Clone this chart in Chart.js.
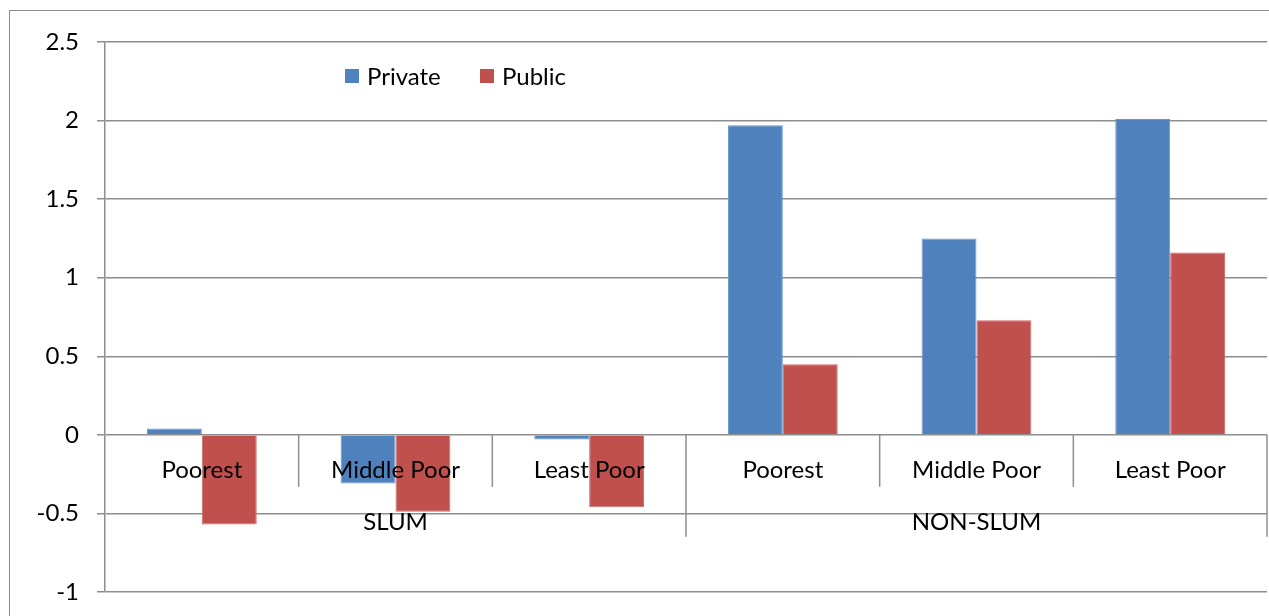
<!DOCTYPE html>
<html>
<head>
<meta charset="utf-8">
<script src="https://cdn.jsdelivr.net/npm/chart.js@4"></script>
<style>
  html, body { margin: 0; padding: 0; background: #fff; overflow: hidden; }
  #wrap { position: relative; width: 1269px; height: 616px; }
  #frame { position: absolute; left: 9px; top: 10px; width: 1300px; height: 700px;
           border: 1.5px solid #8c8c8c; box-sizing: border-box; }
  canvas { position: absolute; left: 0; top: 0; }
</style>
</head>
<body>
<div id="wrap">
  <div id="frame"></div>
  <canvas id="chart" width="1269" height="616"></canvas>
</div>
<script>
const categories = ['Poorest', 'Middle Poor', 'Least Poor', 'Poorest', 'Middle Poor', 'Least Poor'];
const groups = ['SLUM', 'NON-SLUM'];
const groupSize = 3;
const privateValues = [0.04, -0.31, -0.03, 1.97, 1.25, 2.01];
const publicValues = [-0.57, -0.49, -0.46, 0.45, 0.73, 1.16];

const FONT = 'Lato, "Open Sans", sans-serif';
const FONT_SIZE = 24;
const gridColor = '#8e8e8e';

// labels sit under the zero line, with Excel-style separators
const categoryAxis = {
    id: 'categoryAxis',
    afterDatasetsDraw(chart) {
        const ctx = chart.ctx;
        const x = chart.scales.x;
        const y = chart.scales.y;
        const zero = y.getPixelForValue(0);
        const half = (x.getPixelForValue(1) - x.getPixelForValue(0)) / 2;
        ctx.save();
        ctx.strokeStyle = gridColor;
        ctx.lineWidth = 1.5;
        ctx.fillStyle = '#000';
        ctx.font = FONT_SIZE + 'px ' + FONT;
        ctx.textAlign = 'center';
        ctx.textBaseline = 'middle';
        categories.forEach((c, i) => {
            ctx.fillText(c, x.getPixelForValue(i), zero + 35);
        });
        for (let i = 1; i <= categories.length; i++) {
            const px = x.getPixelForValue(i) - half;
            const len = (i % groupSize === 0) ? 102 : 52;
            ctx.beginPath();
            ctx.moveTo(px, zero);
            ctx.lineTo(px, zero + len);
            ctx.stroke();
        }
        groups.forEach((g, gi) => {
            const a = x.getPixelForValue(gi * groupSize);
            const b = x.getPixelForValue(gi * groupSize + groupSize - 1);
            ctx.fillText(g, (a + b) / 2, zero + 87);
        });
        ctx.restore();
    }
};

// legend placed where the original has it
const manualLegend = {
    id: 'manualLegend',
    afterDraw(chart) {
        const ctx = chart.ctx;
        const spots = [345, 480];
        ctx.save();
        ctx.font = FONT_SIZE + 'px ' + FONT;
        ctx.textBaseline = 'middle';
        chart.data.datasets.forEach((ds, i) => {
            ctx.fillStyle = ds.backgroundColor;
            ctx.fillRect(spots[i], 69, 14, 14);
            ctx.fillStyle = '#000';
            ctx.fillText(ds.label, spots[i] + 22, 77);
        });
        ctx.restore();
    }
};

const data = {
    labels: categories,
    datasets: [{
        label: 'Private',
        data: privateValues,
        backgroundColor: '#4f81bd',
        borderColor: '#6b97cc',
        borderWidth: 1
    }, {
        label: 'Public',
        data: publicValues,
        backgroundColor: '#c0504d',
        borderColor: '#cf6b68',
        borderWidth: 1
    }]
};

const config = {
    type: 'bar',
    data: data,
    options: {
        responsive: false,
        animation: false,
        layout: {
            padding: { top: 42, bottom: 24, right: 2, left: 0 }
        },
        datasets: {
            bar: { categoryPercentage: 0.567, barPercentage: 1 }
        },
        scales: {
            x: {
                display: false
            },
            y: {
                min: -1,
                max: 2.5,
                afterFit: s => {
                    s.width = 105;
                    s.paddingTop = 0;
                    s.paddingBottom = 0;
                },
                grid: {
                    color: gridColor,
                    lineWidth: 1.5,
                    tickLength: 8
                },
                border: {
                    color: gridColor,
                    width: 1.5
                },
                ticks: {
                    stepSize: 0.5,
                    color: '#000',
                    padding: 18,
                    font: { size: FONT_SIZE, family: FONT },
                    callback: v => String(v)
                }
            }
        },
        plugins: {
            legend: { display: false },
            tooltip: { enabled: false }
        }
    },
    plugins: [categoryAxis, manualLegend]
};

const ctx = document.getElementById('chart').getContext('2d');
new Chart(ctx, config);
</script>
</body>
</html>
